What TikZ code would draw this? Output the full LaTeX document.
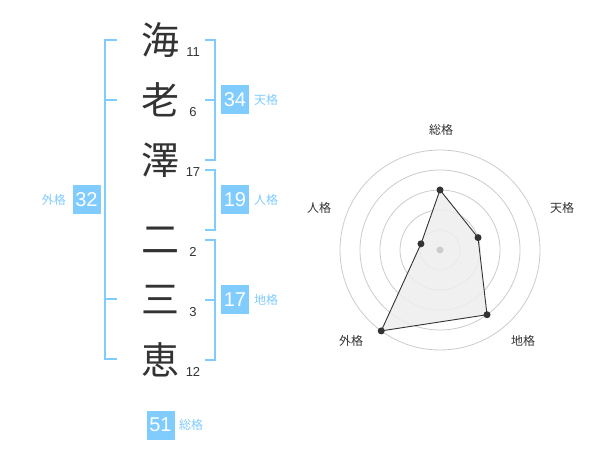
\documentclass[tikz,border=0pt]{standalone}
\usepackage{fontspec}
\setmainfont{Liberation Sans}
\newfontfamily\jp{Noto Sans CJK JP}
\definecolor{boxblue}{RGB}{128,204,255}
\definecolor{txtdark}{RGB}{51,51,51}
\definecolor{ringgray}{RGB}{204,204,204}
\definecolor{polyfill}{RGB}{238,238,238}
\begin{document}
\begin{tikzpicture}[x=1pt,y=-1pt,
  kanji/.style={font=\jp\fontsize{38}{38}\selectfont, text=txtdark, inner sep=0},
  stroke/.style={font=\fontsize{13}{13}\selectfont, text=txtdark, inner sep=0},
  valbox/.style={fill=boxblue, text=white, minimum width=28pt, minimum height=29pt, inner sep=0, font=\fontsize{20}{20}\selectfont},
  kaku/.style={font=\jp\fontsize{12}{12}\selectfont, text=boxblue, inner sep=0},
  brk/.style={draw=boxblue, line width=2pt},
  radlab/.style={font=\jp\fontsize{12}{12}\selectfont, text=txtdark, inner sep=0},
  ring/.style={draw=ringgray, line width=0.8pt},
  dot/.style={circle, fill=txtdark, minimum size=7pt, inner sep=0}]
\useasboundingbox (0,0) rectangle (600,470);
\fill[white] (0,0) rectangle (600,470);

% kanji
\node[kanji] (k1) at (160,40) {海};
\node[kanji] (k2) at (160,100) {老};
\node[kanji] (k3) at (160,160) {澤};
\node[kanji] (k4) at (160,240) {二};
\node[kanji] (k5) at (160,300) {三};
\node[kanji] (k6) at (160,360) {恵};
\node[stroke] (s1) at (193,52) {11};
\node[stroke] (s2) at (193,112) {6};
\node[stroke] (s3) at (193,172) {17};
\node[stroke] (s4) at (193,252) {2};
\node[stroke] (s5) at (193,312) {3};
\node[stroke] (s6) at (193,372) {12};

% brackets
\draw[brk] (117,40) -- (105,40) -- (105,359) -- (117,359);
\draw[brk] (105,100) -- (117,100);
\draw[brk] (105,299) -- (117,299);
\draw[brk] (205,40) -- (215,40) -- (215,160) -- (205,160);
\draw[brk] (205,100) -- (215,100);
\draw[brk] (205,170) -- (215,170) -- (215,230) -- (205,230);
\draw[brk] (205,240) -- (215,240) -- (215,360) -- (205,360);
\draw[brk] (205,300) -- (215,300);

% value boxes
\node[valbox] (ten) at (235,100) {34};
\node[kaku, anchor=west] (tenl) at (254,100) {天格};
\node[valbox] (jin) at (235,200) {19};
\node[kaku, anchor=west] (jinl) at (254,200) {人格};
\node[valbox] (chi) at (235,300) {17};
\node[kaku, anchor=west] (chil) at (254,300) {地格};
\node[valbox] (gai) at (86.5,200) {32};
\node[kaku, anchor=east] (gail) at (66,200) {外格};
\node[valbox] (sou) at (160.5,425) {51};
\node[kaku, anchor=west] (soul) at (179,425) {総格};

% radar
\coordinate (c) at (440,250);
\foreach \r in {20,40,60,80,100} \draw[ring] (c) circle[radius=\r];
\path (c) ++(0,-60) coordinate (pS);
\path (c) ++({40*cos(18)},{-40*sin(18)}) coordinate (pT);
\path (c) ++({80*cos(54)},{80*sin(54)}) coordinate (pC);
\path (c) ++({-100*cos(54)},{100*sin(54)}) coordinate (pG);
\path (c) ++({-20*cos(18)},{-20*sin(18)}) coordinate (pJ);
\fill[polyfill, opacity=0.85] (pS) -- (pT) -- (pC) -- (pG) -- (pJ) -- cycle;
\draw[txtdark, line width=0.9pt] (pS) -- (pT) -- (pC) -- (pG) -- (pJ) -- cycle;
\node[circle, fill=ringgray, minimum size=7pt, inner sep=0] (cd) at (c) {};
\node[dot] (dS) at (pS) {};
\node[dot] (dT) at (pT) {};
\node[dot] (dC) at (pC) {};
\node[dot] (dG) at (pG) {};
\node[dot] (dJ) at (pJ) {};
\node[radlab] (lS) at (441,130) {総格};
\node[radlab] (lT) at (562,208) {天格};
\node[radlab] (lJ) at (319,208) {人格};
\node[radlab] (lG) at (351,341) {外格};
\node[radlab] (lC) at (523,341) {地格};
\end{tikzpicture}
\end{document}
